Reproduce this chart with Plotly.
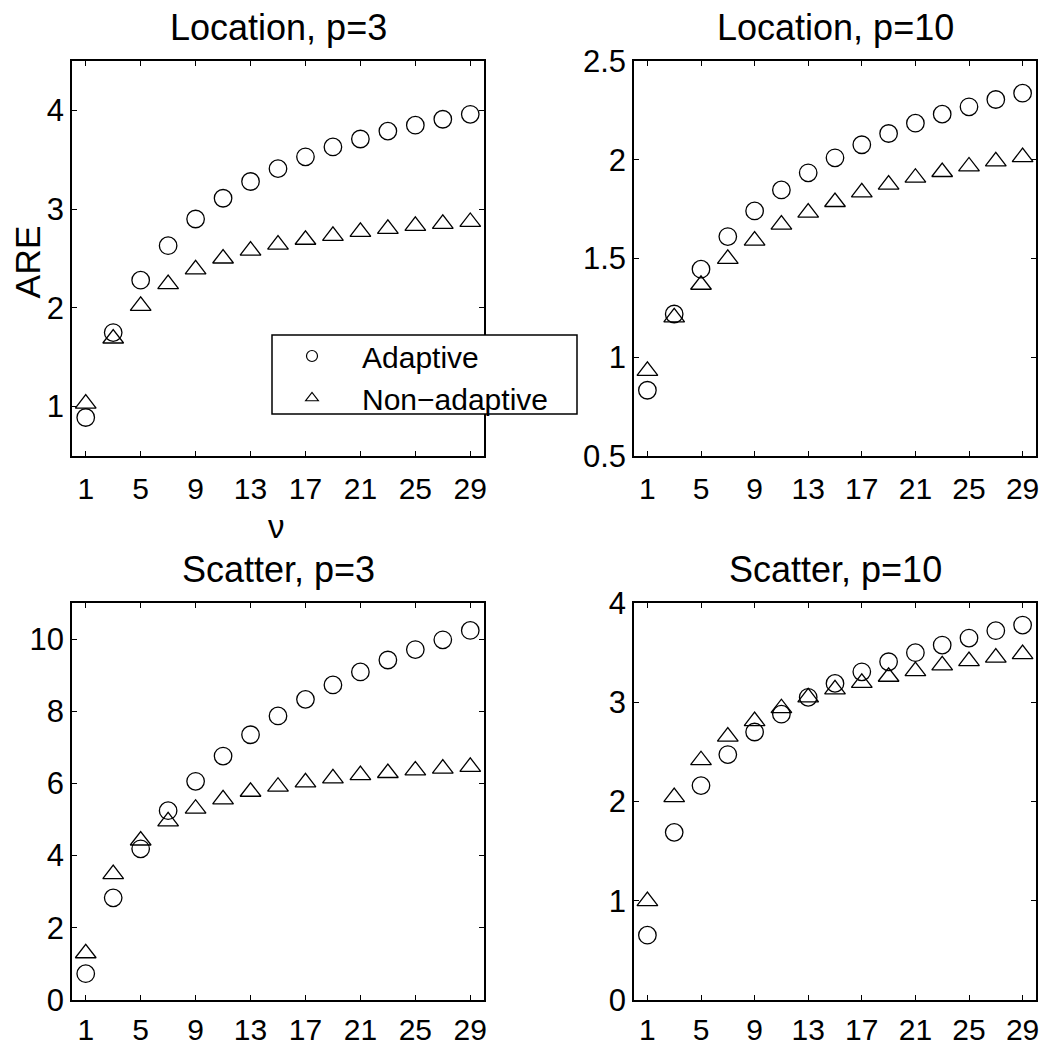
import plotly.graph_objects as go

nu = [1, 3, 5, 7, 9, 11, 13, 15, 17, 19, 21, 23, 25, 27, 29]

loc_p3_adaptive = [0.89, 1.75, 2.28, 2.63, 2.90, 3.11, 3.28, 3.41, 3.53, 3.63, 3.71, 3.79, 3.85, 3.91, 3.96]
loc_p3_nonadaptive = [1.03, 1.69, 2.02, 2.24, 2.39, 2.50, 2.58, 2.64, 2.69, 2.73, 2.77, 2.80, 2.83, 2.85, 2.87]

loc_p10_adaptive = [0.833, 1.219, 1.446, 1.611, 1.741, 1.847, 1.934, 2.010, 2.076, 2.133, 2.185, 2.231, 2.268, 2.305, 2.337]
loc_p10_nonadaptive = [0.931, 1.202, 1.367, 1.498, 1.591, 1.672, 1.732, 1.786, 1.835, 1.874, 1.909, 1.938, 1.966, 1.992, 2.013]

sc_p3_adaptive = [0.73, 2.83, 4.19, 5.245, 6.06, 6.76, 7.35, 7.87, 8.33, 8.73, 9.09, 9.42, 9.71, 9.98, 10.24]
sc_p3_nonadaptive = [1.295, 3.49, 4.42, 4.95, 5.30, 5.56, 5.77, 5.91, 6.03, 6.14, 6.23, 6.29, 6.36, 6.41, 6.46]

sc_p10_adaptive = [0.653, 1.689, 2.16, 2.473, 2.70, 2.88, 3.05, 3.19, 3.307, 3.408, 3.499, 3.576, 3.647, 3.721, 3.778]
sc_p10_nonadaptive = [0.996, 2.045, 2.416, 2.654, 2.81, 2.94, 3.05, 3.13, 3.196, 3.257, 3.314, 3.371, 3.415, 3.45, 3.485]

x_ticks = [1, 5, 9, 13, 17, 21, 25, 29]
titles = ["Location, p=3", "Location, p=10", "Scatter, p=3", "Scatter, p=10"]
legend_names = ["Adaptive", "Non\u2212adaptive"]

panels = [
    (loc_p3_adaptive, loc_p3_nonadaptive, [0.5, 4.5], [1, 2, 3, 4], ["1", "2", "3", "4"]),
    (loc_p10_adaptive, loc_p10_nonadaptive, [0.5, 2.5], [0.5, 1, 1.5, 2, 2.5], ["0.5", "1", "1.5", "2", "2.5"]),
    (sc_p3_adaptive, sc_p3_nonadaptive, [0, 11], [0, 2, 4, 6, 8, 10], ["0", "2", "4", "6", "8", "10"]),
    (sc_p10_adaptive, sc_p10_nonadaptive, [0, 4], [0, 1, 2, 3, 4], ["0", "1", "2", "3", "4"]),
]

# The page body has an 8px default margin; the figure is sized so it fills the window.
OFF = 8
W, H = 1056 - OFF, 1046 - OFF


def px(xp):
    return (xp - OFF) / W


def py(yp):
    return 1 - (yp - OFF) / H


FONT = "Liberation Sans, Arial, Helvetica, sans-serif"
TICK_SIZE = 31
TITLE_SIZE = 36

# pixel boxes (window coordinates) of the four plot areas: (left, right, top, bottom)
boxes = [
    (72, 484, 61, 456),
    (634, 1036, 61, 456),
    (72, 484, 603, 1000),
    (634, 1036, 603, 1000),
]
x_standoffs = [5, 5, 2, 2]

fig = go.Figure()
layout = dict(
    width=W, height=H,
    margin=dict(l=0, r=0, t=0, b=0, autoexpand=False),
    paper_bgcolor="white", plot_bgcolor="white",
    font=dict(family=FONT, color="black", size=TICK_SIZE),
    showlegend=True,
)

annotations = []
for i, (ad, na, yr, yt, ytt) in enumerate(panels):
    k = "" if i == 0 else str(i + 1)
    l, r, t, b = boxes[i]
    xd = [px(l), px(r)]
    yd = [py(b), py(t)]
    axcommon = dict(
        showline=True, linecolor="black", linewidth=1.5, mirror="ticks",
        ticks="inside", ticklen=5, tickwidth=1, tickcolor="black",
        showgrid=False, zeroline=False, automargin=False,
    )
    layout["xaxis" + k] = dict(axcommon, domain=xd, range=[0, 30], tickvals=x_ticks,
                               ticktext=[str(v) for v in x_ticks],
                               tickfont=dict(family=FONT, size=30, color="black"),
                               anchor="y" + k, ticklabelstandoff=x_standoffs[i])
    layout["yaxis" + k] = dict(axcommon, domain=yd, range=yr, tickvals=yt, ticktext=ytt,
                               tickfont=dict(family=FONT, size=TICK_SIZE, color="black"),
                               anchor="x" + k, ticklabelstandoff=0)
    fig.add_trace(go.Scatter(x=nu, y=ad, mode="markers", xaxis="x" + k, yaxis="y" + k,
                             marker=dict(symbol="circle-open", size=17.5, color="black",
                                         line=dict(width=1.3, color="black")),
                             showlegend=False))
    fig.add_trace(go.Scatter(x=nu, y=na, mode="markers", xaxis="x" + k, yaxis="y" + k,
                             marker=dict(symbol="triangle-up-open", size=18, color="black",
                                         line=dict(width=1.3, color="black")),
                             showlegend=False))
    annotations.append(dict(text=titles[i], x=(xd[0] + xd[1]) / 2, y=yd[1] + 11 / H,
                            xref="paper", yref="paper", xanchor="center", yanchor="bottom",
                            showarrow=False, font=dict(family=FONT, size=TITLE_SIZE, color="black")))

# axis labels
annotations.append(dict(text="ARE", x=px(27.5), y=py(262), xref="paper", yref="paper",
                        textangle=-90, xanchor="center", yanchor="middle", showarrow=False,
                        font=dict(family=FONT, size=35.5, color="black")))
annotations.append(dict(text="\u03bd", x=px(276), y=py(526), xref="paper", yref="paper",
                        xanchor="center", yanchor="middle", showarrow=False,
                        font=dict(family=FONT, size=33, color="black")))

# legend entries
fig.add_trace(go.Scatter(x=[None], y=[None], mode="markers", name=legend_names[0],
                         marker=dict(symbol="circle-open", size=11, color="black",
                                     line=dict(width=1.2, color="black"))))
fig.add_trace(go.Scatter(x=[None], y=[None], mode="markers", name=legend_names[1],
                         marker=dict(symbol="triangle-up-open", size=11, color="black",
                                     line=dict(width=1.2, color="black"))))

# legend frame (box drawn as a shape, legend itself is transparent)
layout["shapes"] = [dict(type="rect", xref="paper", yref="paper",
                         x0=px(272), x1=px(577), y0=py(414), y1=py(335),
                         line=dict(color="black", width=1.5), fillcolor="white",
                         layer="above")]
layout["legend"] = dict(x=px(262), y=py(330), xanchor="left", yanchor="top",
                        bgcolor="rgba(0,0,0,0)", borderwidth=0,
                        font=dict(family=FONT, size=30, color="black"),
                        itemwidth=90, tracegroupgap=0)
layout["annotations"] = annotations
fig.update_layout(**layout)
fig.write_html("out.html")
